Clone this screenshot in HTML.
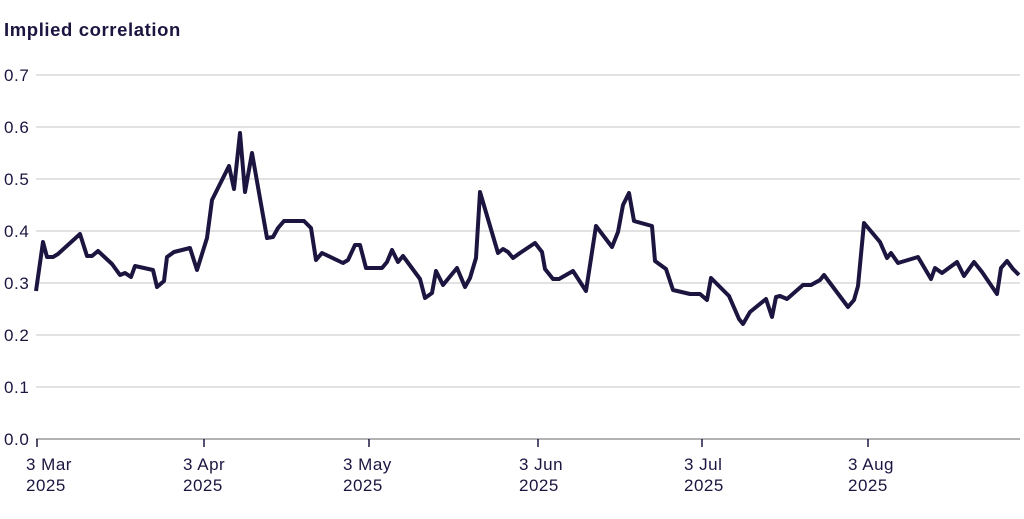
<!DOCTYPE html>
<html><head><meta charset="utf-8"><style>
body{margin:0;background:#fff;width:1024px;height:514px;overflow:hidden}
svg text{font-family:"Liberation Sans",sans-serif;fill:#1c1540}
</style></head><body>
<svg width="1024" height="514" viewBox="0 0 1024 514">
<text x="4" y="36" font-size="18.5" font-weight="bold" letter-spacing="0.6">Implied correlation</text>
<g stroke="#d9d9d9" stroke-width="1.5">
<line x1="36" x2="1020" y1="75" y2="75"/><line x1="36" x2="1020" y1="127" y2="127"/>
<line x1="36" x2="1020" y1="179" y2="179"/><line x1="36" x2="1020" y1="231" y2="231"/>
<line x1="36" x2="1020" y1="283" y2="283"/><line x1="36" x2="1020" y1="335" y2="335"/>
<line x1="36" x2="1020" y1="387" y2="387"/>
</g>
<line x1="36" x2="1020" y1="439" y2="439" stroke="#999" stroke-width="1.5"/>
<g font-size="17" letter-spacing="0.6">
<text x="4" y="81">0.7</text><text x="4" y="133">0.6</text><text x="4" y="185">0.5</text>
<text x="4" y="237">0.4</text><text x="4" y="289">0.3</text><text x="4" y="341">0.2</text>
<text x="4" y="393">0.1</text><text x="4" y="445">0.0</text>
</g>
<g stroke="#1c1540" stroke-width="1.5">
<line x1="37" x2="37" y1="439" y2="447"/><line x1="204" x2="204" y1="439" y2="447"/>
<line x1="369" x2="369" y1="439" y2="447"/><line x1="538" x2="538" y1="439" y2="447"/>
<line x1="702" x2="702" y1="439" y2="447"/><line x1="868" x2="868" y1="439" y2="447"/>
</g>
<g font-size="17" letter-spacing="0.5">
<text x="26" y="470">3 Mar</text><text x="26" y="491">2025</text>
<text x="183" y="470">3 Apr</text><text x="183" y="491">2025</text>
<text x="343" y="470">3 May</text><text x="343" y="491">2025</text>
<text x="519" y="470">3 Jun</text><text x="519" y="491">2025</text>
<text x="684" y="470">3 Jul</text><text x="684" y="491">2025</text>
<text x="848" y="470">3 Aug</text><text x="848" y="491">2025</text>
</g>
<polyline fill="none" stroke="#1c1540" stroke-width="4" stroke-linejoin="round" points="36,291 43,242 47,257 53,257 58,254 80,234 87,256 92,256 98,251 112,264 120,275 125,273 131,277 135,266 153,270 157,287 164,281 167,257 174,252 190,248 197,270 207,238 212,200 229,166 234,189 240,133 245,192 252,153 267,238 273,237 278,228 284,221 304,221 311,228 316,260 322,253 343,263 348,260 355,245 360,245 366,268 382,268 387,262 392,250 398,262 403,256 420,279 425,298 432,293 436,271 443,285 457,268 465,287 470,278 476,258 480,192 498,253 503,249 508,252 513,258 520,253 535,243 542,252 545,269 553,279 559,279 573,271 586,291 596,226 612,247 618,232 623,205 629,193 634,221 652,226 655,261 666,269 673,290 690,294 700,294 707,300 711,278 729,296 739,319 743,324 750,312 766,299 772,317 776,297 780,296 787,299 803,285 811,285 820,280 824,275 848,307 854,300 858,286 864,223 880,242 887,258 891,253 898,263 918,257 931,279 935,268 942,273 957,262 964,276 974,262 982,272 997,294 1001,268 1007,261 1013,269 1019,275"/>
</svg>
</body></html>
